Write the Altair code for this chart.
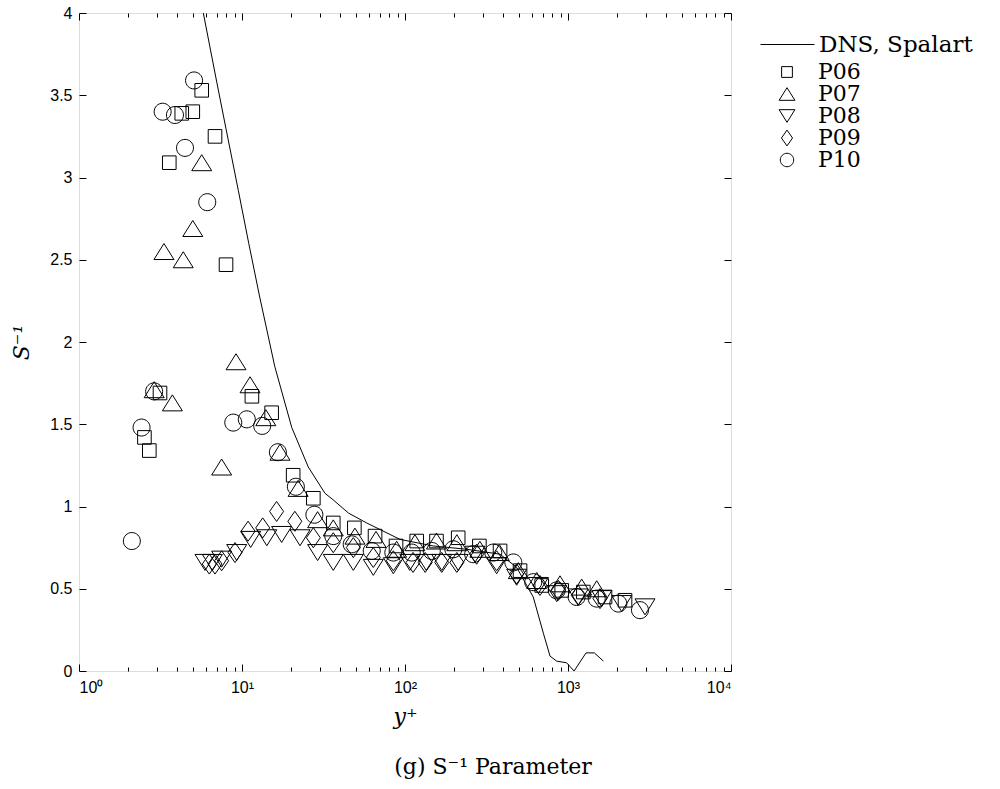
import altair as alt
import pandas as pd

# ---------------- data ----------------
dns_x = [5.79, 7.0, 8.0, 9.5, 11.0, 12.8, 15.9, 20.2, 25.5, 32.3, 36.3, 45.0, 58.2, 93.2,
         149, 239, 383, 484, 612, 706, 776, 853, 980, 1090, 1290, 1450, 1650]
dns_y = [4.0, 3.58, 3.29, 2.92, 2.60, 2.28, 1.85, 1.48, 1.24, 1.08, 1.04, 0.96, 0.90, 0.80,
         0.76, 0.74, 0.71, 0.63, 0.45, 0.23, 0.09, 0.06, 0.05, 0.0, 0.11, 0.11, 0.06]

p06_x = [3.58, 4.27, 4.99, 5.66, 6.83, 7.98, 3.14, 2.52, 2.70, 11.5, 15.2, 20.6, 27.4, 36.3,
         48.9, 65.5, 88.1, 118, 156, 212, 286, 383, 508, 690, 915, 1242, 1687, 2238]
p06_y = [3.09, 3.39, 3.40, 3.53, 3.25, 2.47, 1.69, 1.42, 1.34, 1.67, 1.57, 1.19, 1.05, 0.90,
         0.87, 0.82, 0.76, 0.79, 0.79, 0.81, 0.76, 0.73, 0.61, 0.52, 0.49, 0.48, 0.45, 0.43]

p07_x = [5.66, 4.99, 3.32, 4.36, 9.19, 11.2, 2.89, 3.74, 14.0, 17.1, 7.50, 22.1, 29.1, 36.3,
         49.3, 66.4, 88.9, 115, 156, 208, 288, 379, 496, 643, 893, 1213, 1500]
p07_y = [3.09, 2.69, 2.55, 2.50, 1.88, 1.74, 1.71, 1.63, 1.54, 1.33, 1.24, 1.11, 0.92, 0.87,
         0.82, 0.80, 0.74, 0.78, 0.79, 0.78, 0.74, 0.72, 0.61, 0.55, 0.53, 0.51, 0.50]

p08_x = [5.93, 6.58, 7.50, 9.28, 11.3, 14.2, 17.5, 22.7, 29.1, 36.3, 48.2, 63.9, 84.8, 107,
         135, 168, 212, 269, 365, 484, 658, 853, 1156, 1610, 2135, 2967]
p08_y = [0.66, 0.66, 0.68, 0.72, 0.80, 0.81, 0.83, 0.81, 0.72, 0.66, 0.66, 0.63, 0.64, 0.66,
         0.66, 0.66, 0.66, 0.71, 0.64, 0.57, 0.52, 0.47, 0.45, 0.44, 0.41, 0.39]

p09_x = [6.30, 6.83, 7.50, 9.06, 10.9, 13.4, 16.3, 21.1, 27.4, 36.3, 48.2, 63.9, 84.8, 112,
         133, 168, 208, 275, 365, 484, 673, 873, 1156, 1571]
p09_y = [0.65, 0.65, 0.67, 0.72, 0.85, 0.87, 0.97, 0.91, 0.81, 0.78, 0.75, 0.69, 0.67, 0.66,
         0.66, 0.66, 0.66, 0.71, 0.67, 0.59, 0.52, 0.49, 0.46, 0.44]

p10_x = [2.11, 2.42, 2.89, 3.26, 3.88, 4.47, 5.08, 6.12, 8.84, 10.7, 13.3, 16.6, 21.4, 27.8,
         36.3, 47.1, 62.5, 84.8, 110, 146, 198, 262, 348, 462, 612, 853, 1130, 1500, 2036, 2765]
p10_y = [0.79, 1.48, 1.70, 3.40, 3.38, 3.18, 3.59, 2.85, 1.51, 1.53, 1.49, 1.33, 1.12, 0.95,
         0.82, 0.77, 0.73, 0.72, 0.72, 0.73, 0.74, 0.71, 0.72, 0.66, 0.54, 0.49, 0.45, 0.44, 0.41, 0.37]

series_names = ["P06", "P07", "P08", "P09", "P10"]
line_name = "DNS, Spalart"

x_major = [1, 10, 100, 1000, 10000]
x_minor = [2, 3, 4, 5, 6, 7, 8, 9, 20, 30, 40, 50, 60, 70, 80, 90,
           200, 300, 400, 500, 600, 700, 800, 900, 2000, 3000, 4000, 5000, 6000, 7000, 8000, 9000]
y_ticks = [0, 0.5, 1, 1.5, 2, 2.5, 3, 3.5, 4]

# ---------------- tables ----------------
line_df = pd.DataFrame({"x": dns_x, "y": dns_y, "series": line_name})
frames = []
for name, xs, ys in zip(series_names, [p06_x, p07_x, p08_x, p09_x, p10_x],
                        [p06_y, p07_y, p08_y, p09_y, p10_y]):
    frames.append(pd.DataFrame({"x": xs, "y": ys, "series": name}))
pts_df = pd.concat(frames, ignore_index=True)

W, H = 652, 658

xscale = alt.Scale(type="log", domain=[1, 10000], nice=False)
yscale = alt.Scale(domain=[0, 4], nice=False, zero=False)

shape_paths = [
    "M-0.68,-0.68L0.68,-0.68L0.68,0.68L-0.68,0.68Z",          # square
    "M0,-0.8L1,0.8L-1,0.8Z",                                    # triangle up
    "M0,0.8L1,-0.8L-1,-0.8Z",                                   # triangle down
    "M0,-1L0.7,0L0,1L-0.7,0Z",                                  # diamond
    "M0.85,0A0.85,0.85,0,1,1,-0.85,0A0.85,0.85,0,1,1,0.85,0Z",  # circle
]

label_expr = ("'10' + (datum.value == 1 ? '⁰' : datum.value == 10 ? '¹' : "
              "datum.value == 100 ? '²' : datum.value == 1000 ? '³' : '⁴')")

tick_font = "Liberation Sans"


def inward_axis(orient, values, size, offset):
    return alt.Axis(orient=orient, offset=offset, values=values, tickSize=size,
                    labels=False, domain=False, grid=False, title="",
                    tickColor="black", tickWidth=1)


# Layer 1: DNS line with label axes
line = alt.Chart(line_df).mark_line(color="black", strokeWidth=1, clip=True).encode(
    x=alt.X("x:Q", scale=xscale,
            axis=alt.Axis(orient="bottom", values=x_major, labelExpr=label_expr, tickSize=0,
                          domain=False, grid=False, labelFont=tick_font, labelFontSize=16,
                          labelColor="black", labelPadding=8, title="y⁺",
                          titleFont="DejaVu Serif", titleFontStyle="italic",
                          titleFontWeight="normal", titleFontSize=22, titleColor="black",
                          titlePadding=11)),
    y=alt.Y("y:Q", scale=yscale,
            axis=alt.Axis(orient="left", values=y_ticks, format="~g", tickSize=0,
                          domain=False, grid=False, labelFont=tick_font, labelFontSize=16,
                          labelColor="black", labelPadding=7, title="S⁻¹",
                          titleFont="DejaVu Serif", titleFontStyle="italic",
                          titleFontWeight="normal", titleFontSize=22, titleColor="black",
                          titlePadding=16)),
    color=alt.Color("series:N", scale=alt.Scale(domain=[line_name], range=["black"]),
                    legend=alt.Legend(title=None, orient="none", legendX=681, legendY=4,
                                      symbolType="stroke", symbolSize=2916,
                                      symbolStrokeWidth=1, symbolStrokeColor="black",
                                      labelFont="DejaVu Serif", labelFontSize=23,
                                      labelColor="black", labelOffset=4, labelLimit=400,
                                      padding=0)),
)

# Layer 2: data markers + inward major ticks on bottom / left
points = alt.Chart(pts_df).mark_point(filled=False, color="black", strokeWidth=1,
                                      size=400, opacity=1).encode(
    x=alt.X("x:Q", scale=xscale, axis=inward_axis("top", x_major, 7, -H)),
    y=alt.Y("y:Q", scale=yscale, axis=inward_axis("right", y_ticks, 7, -W)),
    shape=alt.Shape("series:N", scale=alt.Scale(domain=series_names, range=shape_paths),
                    legend=alt.Legend(title=None, orient="none", legendX=697, legendY=48,
                                      symbolSize=250, symbolStrokeWidth=1,
                                      symbolStrokeColor="black",
                                      symbolFillColor="transparent",
                                      labelFont="DejaVu Serif", labelFontSize=22,
                                      labelColor="black", labelOffset=20, labelLimit=400,
                                      rowPadding=0, padding=0)),
)

# Layer 3: inward major ticks on top / right
frame_major = alt.Chart(line_df).mark_point(opacity=0).encode(
    x=alt.X("x:Q", scale=xscale, axis=inward_axis("bottom", x_major, 7, -H)),
    y=alt.Y("y:Q", scale=yscale, axis=inward_axis("left", y_ticks, 7, -W)),
)

# Layer 4/5: inward minor ticks on bottom and top
minor_bottom = alt.Chart(line_df).mark_point(opacity=0).encode(
    x=alt.X("x:Q", scale=xscale, axis=inward_axis("top", x_minor, 4, -H)),
    y=alt.Y("y:Q", scale=yscale, axis=None),
)
minor_top = alt.Chart(line_df).mark_point(opacity=0).encode(
    x=alt.X("x:Q", scale=xscale, axis=inward_axis("bottom", x_minor, 4, -H)),
    y=alt.Y("y:Q", scale=yscale, axis=None),
)

chart = alt.layer(line, points, frame_major, minor_bottom, minor_top).resolve_axis(
    x="independent", y="independent"
).resolve_scale(x="shared", y="shared").properties(
    width=W, height=H,
    title=alt.TitleParams(text="(g) S⁻¹ Parameter", orient="bottom", anchor="middle",
                          font="DejaVu Serif", fontSize=22, fontWeight="normal",
                          color="black", dx=88, offset=30),
    autosize=alt.AutoSizeParams(type="none"),
    padding={"left": 79, "top": 13, "right": 269, "bottom": 118},
).configure_view(stroke="black", strokeWidth=1).configure(background="white")

chart.save("out.html", embed_options={"renderer": "svg", "actions": False})
